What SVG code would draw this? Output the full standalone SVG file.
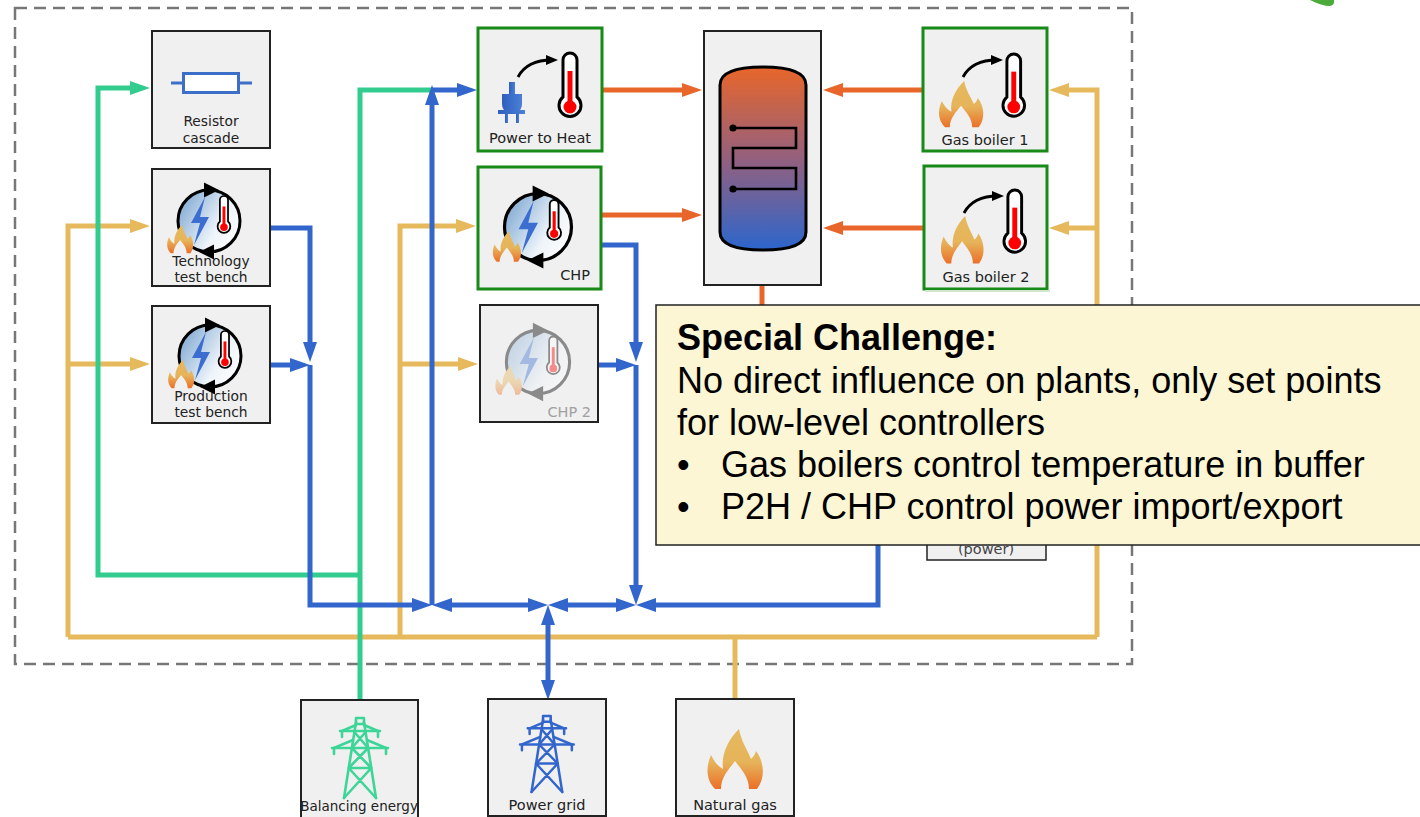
<svg xmlns="http://www.w3.org/2000/svg" xmlns:xlink="http://www.w3.org/1999/xlink" width="1420" height="817" viewBox="0 0 1420 817">
  <style>
    .box { fill: #f0f0f0; stroke: #222; stroke-width: 2; }
    .plant { fill: #f0f0f0; stroke: #188a18; stroke-width: 3; }
    .lbl { font-family: "DejaVu Sans", "Liberation Sans", sans-serif; font-size: 14.5px; fill: #222; text-anchor: middle; }
    .lbl2 { font-family: "DejaVu Sans", "Liberation Sans", sans-serif; font-size: 13.8px; fill: #222; text-anchor: middle; }
    .wire { fill: none; stroke-width: 5; stroke-linejoin: miter; }
    .gas { stroke: #e5b95c; }
    .el { stroke: #3366cc; }
    .bal { stroke: #33cc8f; }
    .heat { stroke: #e8662a; }
    .note { font-family: "Liberation Sans", Arial, sans-serif; font-size: 36px; fill: #000; }
    .tower { fill: none; stroke-width: 2.6; stroke-linecap: round; stroke-linejoin: round; }
  </style>
  <defs>
    <marker id="aGas" viewBox="0 0 20 14" refX="10" refY="7" markerWidth="20" markerHeight="14" markerUnits="userSpaceOnUse" orient="auto-start-reverse"><path d="M0,0 L20,7 L0,14 Z" fill="#e5b95c"/></marker>
    <marker id="aEl" viewBox="0 0 20 14" refX="10" refY="7" markerWidth="20" markerHeight="14" markerUnits="userSpaceOnUse" orient="auto-start-reverse"><path d="M0,0 L20,7 L0,14 Z" fill="#3366cc"/></marker>
    <marker id="aBal" viewBox="0 0 20 14" refX="10" refY="7" markerWidth="20" markerHeight="14" markerUnits="userSpaceOnUse" orient="auto-start-reverse"><path d="M0,0 L20,7 L0,14 Z" fill="#33cc8f"/></marker>
    <marker id="aHeat" viewBox="0 0 20 14" refX="10" refY="7" markerWidth="20" markerHeight="14" markerUnits="userSpaceOnUse" orient="auto-start-reverse"><path d="M0,0 L20,7 L0,14 Z" fill="#e8662a"/></marker>
    <marker id="aCurve" viewBox="0 0 12 10" refX="6" refY="5" markerWidth="12" markerHeight="10" markerUnits="userSpaceOnUse" orient="auto"><path d="M0,0 L12,5 L0,10 Z" fill="#000"/></marker>

    <linearGradient id="flameFill" x1="0" y1="0" x2="0" y2="1">
      <stop offset="0" stop-color="#e6b95e"/>
      <stop offset="0.55" stop-color="#e6b45a"/>
      <stop offset="1" stop-color="#ec6f28"/>
    </linearGradient>
    <linearGradient id="glass" x1="0" y1="0.2" x2="1" y2="0.8">
      <stop offset="0" stop-color="#7fa8d2"/>
      <stop offset="0.65" stop-color="#eef4fa"/>
      <stop offset="1" stop-color="#ffffff"/>
    </linearGradient>
    <linearGradient id="tankFill" x1="0" y1="0" x2="0" y2="1">
      <stop offset="0" stop-color="#e8662a"/>
      <stop offset="0.5" stop-color="#94607e"/>
      <stop offset="1" stop-color="#2c66cc"/>
    </linearGradient>
    <linearGradient id="plugFill" x1="0" y1="0" x2="1" y2="0">
      <stop offset="0" stop-color="#2f5fbf"/>
      <stop offset="1" stop-color="#4a7fd6"/>
    </linearGradient>

    <!-- flame, 60 x 60 -->
    <path id="flame" fill="url(#flameFill)" fill-rule="evenodd"
      d="M10,60 C2,52 0,40 6,26 C10,34 14,38 18,40 C16,24 24,10 34,0 C36,12 42,20 46,30 C48,28 50,26 51,22 C60,34 60,50 52,60 Z
         M16,60 C16,48 24,40 30,32 C36,40 44,48 44,60 Z"/>

    <!-- thermometer, 24 x 66 -->
    <g id="thermo">
      <path d="M5,44 V7 A7,7 0 0 1 19,7 V44 A11,11 0 1 1 5,44 Z" fill="#fff" stroke="#000" stroke-width="3"/>
      <rect x="9.5" y="18" width="5" height="32" fill="#f00"/>
      <circle cx="12" cy="54" r="6.5" fill="#f00"/>
    </g>

    <!-- combined heat and power cycle, centred on 0,0 -->
    <g id="cycle">
      <circle r="31" fill="url(#glass)" stroke="#000" stroke-width="3"/>
      <path d="M-5,-38.5 L10,-31 L-5,-23.5 Z" fill="#000"/>
      <path d="M5,23.5 L-10,31 L5,38.5 Z" fill="#000"/>
      <path d="M-4,-24 L-18,2 L-9,2 L-15,24 L0,-4 L-9,-4 Z" fill="#3b6ed0"/>
      <use href="#thermo" transform="translate(8,-25) scale(0.58)"/>
      <use href="#flame" transform="translate(-43,4) scale(0.47)"/>
    </g>

    <!-- transmission tower, 56 x 80 -->
    <g id="tower">
      <rect x="24" y="0" width="8" height="6"/>
      <path d="M8,13 H48 M10,13 V19 M46,13 V19 M0,30 H56 M2,30 V36 M54,30 V36"/>
      <path d="M24,4 L12,80 M32,4 L44,80"/>
      <path d="M10,13 L24,7 M46,13 L32,7 M2,30 L21,22 M54,30 L35,22"/>
      <path d="M22.4,14 L36.1,30 M33.6,14 L19.9,30 M19.9,30 L39.3,50 M36.1,30 L16.7,50 M16.7,50 H39.3 M16.7,50 L44,80 M39.3,50 L12,80"/>
    </g>
  </defs>

  <rect width="1420" height="817" fill="#fff"/>

  <!-- logo fragment, top right -->
  <path d="M1310,0 Q1322,6 1330,6 Q1335,5 1334,0 Z" fill="#4aaa3a"/>

  <!-- plant boundary -->
  <rect x="15" y="8" width="1117" height="656" fill="none" stroke="#777" stroke-width="2.5" stroke-dasharray="12 7"/>

  <!-- connectors -->
  <g id="connectors">
    <g class="wire gas">
      <path d="M735,700 V637"/>
      <path d="M68,637 H1097"/>
      <path d="M68,637 V226 H140" marker-end="url(#aGas)"/>
      <path d="M68,364 H140" marker-end="url(#aGas)"/>
      <path d="M400,637 V226 H466" marker-end="url(#aGas)"/>
      <path d="M400,364 H468" marker-end="url(#aGas)"/>
      <path d="M1097,637 V90 H1059" marker-end="url(#aGas)"/>
      <path d="M1097,228 H1059" marker-end="url(#aGas)"/>
    </g>
    <g class="wire bal">
      <path d="M360,575 H98 V88 H140" marker-end="url(#aBal)"/>
      <path d="M360,700 V90 H432"/>
    </g>
    <g class="wire el">
      <path d="M270,228 H310 V352" marker-end="url(#aEl)"/>
      <path d="M270,365 H300" marker-end="url(#aEl)"/>
      <path d="M310,365 V605 H422" marker-end="url(#aEl)"/>
      <path d="M442,605 H538" marker-start="url(#aEl)" marker-end="url(#aEl)"/>
      <path d="M558,605 H626" marker-start="url(#aEl)" marker-end="url(#aEl)"/>
      <path d="M548,615 V690" marker-start="url(#aEl)" marker-end="url(#aEl)"/>
      <path d="M432,605 V95" marker-end="url(#aEl)"/>
      <path d="M432,90 H467" marker-end="url(#aEl)"/>
      <path d="M601,245 H636 V352" marker-end="url(#aEl)"/>
      <path d="M598,365 H626" marker-end="url(#aEl)"/>
      <path d="M636,365 V595" marker-end="url(#aEl)"/>
      <path d="M878,470 V605 H646" marker-end="url(#aEl)"/>
    </g>
    <g class="wire heat">
      <path d="M602,90 H692" marker-end="url(#aHeat)"/>
      <path d="M601,215 H692" marker-end="url(#aHeat)"/>
      <path d="M923,90 H833" marker-end="url(#aHeat)"/>
      <path d="M924,228 H833" marker-end="url(#aHeat)"/>
      <path d="M762,285 V310"/>
    </g>
  </g>

  <!-- consumers -->
  <g id="resistor-cascade">
    <rect class="box" x="152" y="31" width="118" height="117"/>
    <path d="M171,83 H183 M239,83 H252" stroke="#3c6fc8" stroke-width="3"/>
    <rect x="183.5" y="73.5" width="55" height="19" fill="#fff" stroke="#3c6fc8" stroke-width="3"/>
    <text class="lbl2" x="211" y="126">Resistor</text>
    <text class="lbl2" x="211" y="143">cascade</text>
  </g>

  <g id="technology-test-bench">
    <rect class="box" x="152" y="169" width="118" height="117"/>
    <use href="#cycle" transform="translate(209,221)"/>
    <text class="lbl2" x="211" y="266">Technology</text>
    <text class="lbl2" x="211" y="282">test bench</text>
  </g>

  <g id="production-test-bench">
    <rect class="box" x="152" y="306" width="118" height="117"/>
    <use href="#cycle" transform="translate(210,356)"/>
    <text class="lbl2" x="211" y="401">Production</text>
    <text class="lbl2" x="211" y="417">test bench</text>
  </g>

  <!-- generators -->
  <g id="power-to-heat">
    <rect class="plant" x="478" y="28" width="124" height="123"/>
    <g fill="url(#plugFill)">
      <rect x="509" y="82" width="6" height="13"/>
      <path d="M502,94 H522 V104 Q522,111 515,113 H509 Q502,111 502,104 Z"/>
      <rect x="498" y="110" width="27" height="4"/>
      <rect x="505" y="114" width="3" height="9"/>
      <rect x="516" y="114" width="3" height="9"/>
    </g>
    <path d="M518,77 Q527,60 552,60" fill="none" stroke="#000" stroke-width="2.8" marker-end="url(#aCurve)"/>
    <use href="#thermo" transform="translate(558,53)"/>
    <text class="lbl" x="540" y="143">Power to Heat</text>
  </g>

  <g id="chp">
    <rect class="plant" x="478" y="167" width="123" height="122"/>
    <use href="#cycle" transform="translate(538,227) scale(1.08)"/>
    <text class="lbl" x="590" y="280" style="text-anchor:end">CHP</text>
  </g>

  <g id="chp-2">
    <rect class="box" x="480" y="305" width="118" height="117"/>
    <use href="#cycle" transform="translate(538,362) scale(1.02)" opacity="0.42"/>
    <text class="lbl" x="591" y="417" style="text-anchor:end; fill:#a0a0a0">CHP 2</text>
  </g>

  <g id="buffer-storage">
    <rect class="box" x="704" y="31" width="117" height="254"/>
    <path d="M720,85 Q720,67 763,67 Q806,67 806,85 V232 Q806,250 763,250 Q720,250 720,232 Z" fill="url(#tankFill)" stroke="#000" stroke-width="3"/>
    <path d="M733,128 H796 V148 H733 V168 H796 V189 H733" fill="none" stroke="#000" stroke-width="2.6"/>
    <circle cx="733" cy="128" r="3.6" fill="#000"/>
    <circle cx="733" cy="189" r="3.6" fill="#000"/>
  </g>

  <g id="gas-boiler-1">
    <rect class="plant" x="923" y="28" width="124" height="123"/>
    <use href="#flame" transform="translate(937,81) scale(0.8,0.77)"/>
    <path d="M963,77 Q972,60 997,60" fill="none" stroke="#000" stroke-width="2.8" marker-end="url(#aCurve)"/>
    <use href="#thermo" transform="translate(1002,54) scale(0.98)"/>
    <text class="lbl" x="985" y="145">Gas boiler 1</text>
  </g>

  <g id="gas-boiler-2">
    <rect class="plant" x="924" y="166" width="123" height="123"/>
    <use href="#flame" transform="translate(939,216) scale(0.77,0.79)"/>
    <path d="M964,213 Q973,196 998,196" fill="none" stroke="#000" stroke-width="2.8" marker-end="url(#aCurve)"/>
    <use href="#thermo" transform="translate(1003,190) scale(0.98)"/>
    <text class="lbl" x="986" y="282">Gas boiler 2</text>
  </g>

  <g id="power-unit">
    <path d="M925,291 H1050" stroke="#cfe6cf" stroke-width="2"/>
    <rect class="box" x="927" y="306" width="119" height="254" style="stroke-width:1.5"/>
    <text class="lbl" x="986" y="554" style="fill:#444">(power)</text>
  </g>

  <!-- supplies -->
  <g id="balancing-energy">
    <rect class="box" x="301" y="700" width="117" height="122"/>
    <use href="#tower" class="tower" stroke="#3dd598" transform="translate(332,718)"/>
    <text class="lbl" x="359" y="811" style="font-size:13.5px">Balancing energy</text>
  </g>

  <g id="power-grid">
    <rect class="box" x="488" y="699" width="118" height="117"/>
    <use href="#tower" class="tower" stroke="#3366cc" transform="translate(520,716) scale(0.96,0.95)"/>
    <text class="lbl" x="547" y="810">Power grid</text>
  </g>

  <g id="natural-gas">
    <rect class="box" x="676" y="699" width="118" height="117"/>
    <use href="#flame" transform="translate(705,729)"/>
    <text class="lbl" x="735" y="810">Natural gas</text>
  </g>

  <!-- note -->
  <g id="special-challenge">
    <rect x="656" y="305" width="780" height="240" fill="#fcf6d4" stroke="#222" stroke-width="1.5"/>
    <text class="note" x="677" y="350" font-weight="bold">Special Challenge:</text>
    <text class="note" x="677" y="393">No direct influence on plants, only set points</text>
    <text class="note" x="677" y="435">for low-level controllers</text>
    <text class="note" x="677" y="477">•</text>
    <text class="note" x="721" y="477">Gas boilers control temperature in buffer</text>
    <text class="note" x="677" y="519">•</text>
    <text class="note" x="721" y="519">P2H / CHP control power import/export</text>
  </g>
</svg>
